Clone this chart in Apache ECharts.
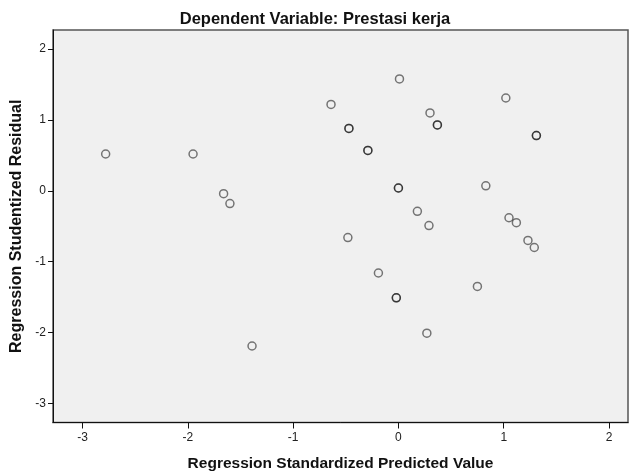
<!DOCTYPE html>
<html>
<head>
<meta charset="utf-8">
<title>Scatterplot</title>
<script src="https://cdn.jsdelivr.net/npm/echarts@6/dist/echarts.min.js"></script>
<style>
  html, body { margin: 0; padding: 0; background: #fff; }
  #chart { width: 630px; height: 475px; }
</style>
</head>
<body>
<div id="chart"></div>
<script>
  // standardized predicted value (x) / studentized residual (y)
  var predicted = [-2.78, -1.95, -1.66, -1.60, -1.39, -0.64, -0.47, -0.47, -0.29, -0.29,
    -0.48, -0.19, 0.01, 0.00, 0.00, -0.02, -0.02, 0.18, 0.29, 0.27,
    0.30, 0.37, 0.37, 0.83, 0.75, 1.02, 1.05, 1.12, 1.23, 1.29, 1.31, 1.31]
  var residual = [0.52, 0.52, -0.04, -0.18, -2.19, 1.22, 0.88, 0.88, 0.57, 0.57,
    -0.66, -1.16, 1.58, 0.04, 0.04, -1.51, -1.51, -0.29, -0.49, -2.01,
    1.10, 0.93, 0.93, 0.07, -1.35, 1.31, -0.38, -0.45, -0.70, -0.80, 0.78, 0.78]
  var xTicks = [-3, -2, -1, 0, 1, 2]
  var yTicks = [-3, -2, -1, 0, 1, 2]

  var points = predicted.map(function(x, i) {
    return [x, residual[i]]
  })

  var font = 'Liberation Sans, Arial, sans-serif'
  var chart = echarts.init(document.getElementById('chart'))
  var option = {
    animation: false,
    title: {
      text: 'Dependent Variable: Prestasi kerja',
      left: 'center',
      top: 6,
      textStyle: {
        fontFamily: font,
        fontSize: 16.5,
        fontWeight: 'bold',
        color: '#111'
      }
    },
    grid: {
      left: 53,
      right: 2,
      top: 30,
      bottom: 52.5,
      containLabel: false,
      outerBoundsMode: 'none',
      show: true,
      backgroundColor: '#f0f0f0',
      borderColor: '#555',
      borderWidth: 1.5
    },
    xAxis: {
      type: 'value',
      min: -3.28,
      max: 2.18,
      name: 'Regression Standardized Predicted Value',
      nameLocation: 'middle',
      nameGap: 33,
      nameTextStyle: {
        fontFamily: font,
        fontSize: 15.5,
        fontWeight: 'bold',
        color: '#111'
      },
      axisLine: { show: true, onZero: false, lineStyle: { color: '#111', width: 1 } },
      axisTick: { show: true, length: 6, customValues: xTicks, lineStyle: { color: '#111' } },
      axisLabel: {
        customValues: xTicks,
        margin: 9,
        fontFamily: font,
        fontSize: 12,
        color: '#222'
      },
      splitLine: { show: false }
    },
    yAxis: {
      type: 'value',
      min: -3.27,
      max: 2.27,
      name: 'Regression Studentized Residual',
      nameLocation: 'middle',
      nameGap: 28,
      nameRotate: 90,
      nameTextStyle: {
        fontFamily: font,
        fontSize: 16,
        fontWeight: 'bold',
        color: '#111'
      },
      axisLine: { show: true, onZero: false, lineStyle: { color: '#111', width: 1 } },
      axisTick: { show: true, length: 5, customValues: yTicks, lineStyle: { color: '#111' } },
      axisLabel: {
        customValues: yTicks,
        margin: 7,
        fontFamily: font,
        fontSize: 12,
        color: '#222'
      },
      splitLine: { show: false }
    },
    series: [{
      type: 'scatter',
      symbol: 'circle',
      symbolSize: 8,
      itemStyle: {
        color: 'transparent',
        borderColor: 'rgba(0, 0, 0, 0.65)',
        borderWidth: 1.5
      },
      data: points
    }]
  }
  chart.setOption(option)
</script>
</body>
</html>
